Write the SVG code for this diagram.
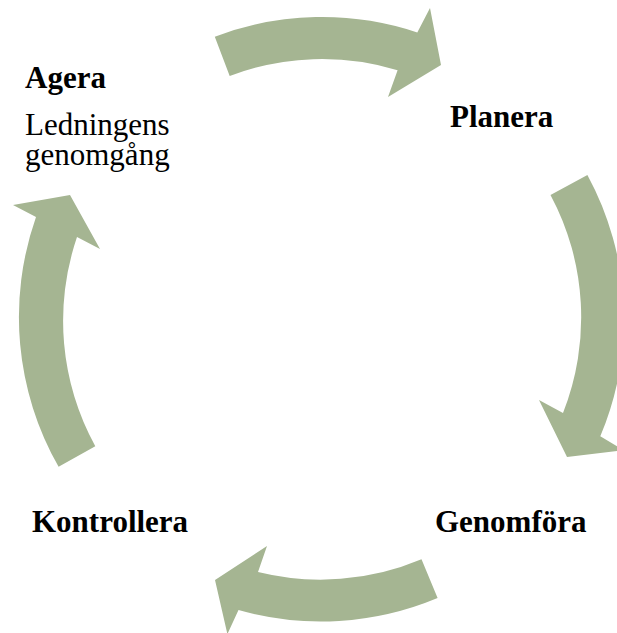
<svg xmlns="http://www.w3.org/2000/svg" width="617" height="633" viewBox="0 0 617 633">
<style>
.arr{fill:#A5B592;stroke:none}
.t{font-family:"Liberation Serif","Times New Roman",serif;font-size:31px;fill:#000}
.b{font-weight:bold}
</style>
<rect width="617" height="633" fill="#fff"/>
<g id="connectors">
<path class="arr" d="M214.8,36.7 A302,302 0 0 1 417.3,32.4 L430,8 L441,65 L388,97 L397.6,70.2 A260,260 0 0 0 229.7,76 Z"/>
<path class="arr" d="M587.4,174.9 A302,302 0 0 1 600.3,436.3 L623.7,450.2 L567,457 L539,400 L563,413 A260,260 0 0 0 550.5,194.9 Z"/>
<path class="arr" d="M437.6,598 A302,302 0 0 1 238.5,610 L227.4,634.1 L215,580 L267,546 L258,572 A260,260 0 0 0 421.5,559.2 Z"/>
<path class="arr" d="M58.6,466.8 A302,302 0 0 1 36,217 L13,205 L70,195 L100,249 L77,237 A260,260 0 0 0 95.3,446.2 Z"/>
</g>
<g id="agera">
<text class="t b" x="25" y="88">Agera</text>
<text class="t" x="25" y="135">Ledningens</text>
<text class="t" x="25" y="165">genomgång</text>
</g>
<g id="planera"><text class="t b" x="450" y="127">Planera</text></g>
<g id="genomfora"><text class="t b" x="435" y="532">Genomföra</text></g>
<g id="kontrollera"><text class="t b" x="32" y="532">Kontrollera</text></g>
</svg>
